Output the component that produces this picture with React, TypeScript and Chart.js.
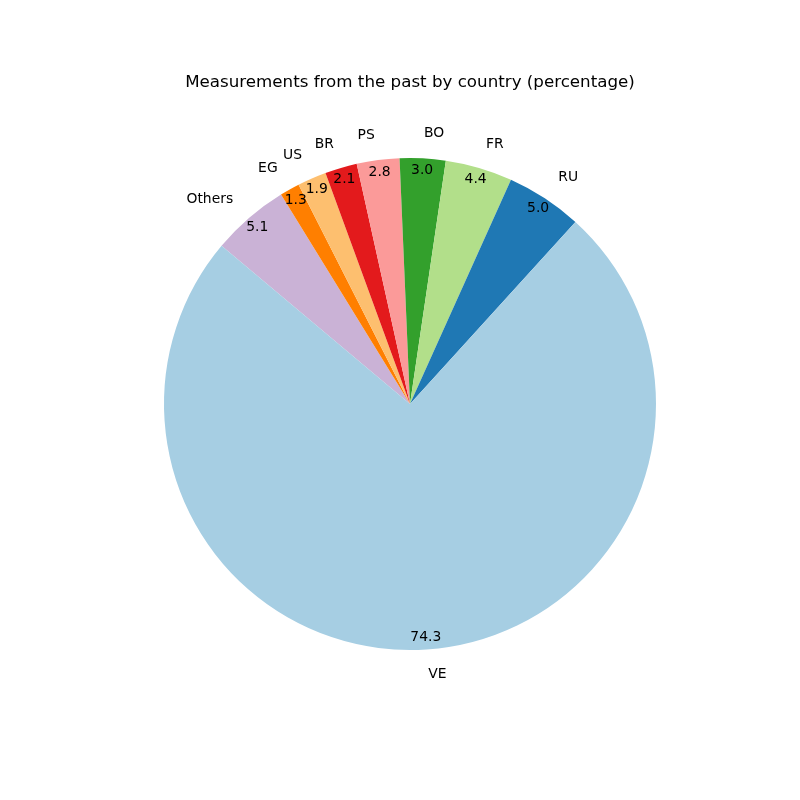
import { useEffect, useRef } from 'react'
import { Chart, registerables } from 'chart.js'

Chart.register(...registerables)

// countries in matplotlib order (counterclockwise from start angle)
const countries = ['VE', 'RU', 'FR', 'BO', 'PS', 'BR', 'US', 'EG', 'Others']
const shares = [74.3, 5.0, 4.4, 3.0, 2.8, 2.1, 1.9, 1.3, 5.1]
const colors = ['#a6cee3', '#1f78b4', '#b2df8a', '#33a02c', '#fb9a99', '#e31a1c', '#fdbf6f', '#ff7f00', '#cab2d6']
const chartTitle = 'Measurements from the past by country (percentage)'

// chart.js goes clockwise, so reverse to mimic the ccw pie
const labelsCw = [...countries].reverse()
const valuesCw = [...shares].reverse()
const colorsCw = [...colors].reverse()

const FONT = '"DejaVu Sans", sans-serif'

// draws title, outer labels and percentages like matplotlib
const pieLabels = {
    id: 'pieLabels',
    afterDraw(chart: Chart) {
        const ctx = chart.ctx
        const meta = chart.getDatasetMeta(0)
        ctx.save()
        ctx.fillStyle = '#000'
        ctx.font = `16.7px ${FONT}`
        ctx.textAlign = 'center'
        ctx.textBaseline = 'middle'
        ctx.fillText(chartTitle, 410, 83)

        ctx.font = `13.9px ${FONT}`
        meta.data.forEach((el: any, i: number) => {
            const { x, y, startAngle, endAngle, outerRadius } = el.getProps(['x', 'y', 'startAngle', 'endAngle', 'outerRadius'], true)
            const mid = (startAngle + endAngle) / 2
            const c = Math.cos(mid)
            const s = Math.sin(mid)
            // label outside at 1.1 radius
            ctx.textAlign = c > 0 ? 'left' : 'right'
            ctx.fillText(labelsCw[i], x + c * outerRadius * 1.1, y + s * outerRadius * 1.1)
            // percentage inside near the edge
            ctx.textAlign = 'center'
            ctx.fillText(valuesCw[i].toFixed(1), x + c * outerRadius * 0.95, y + s * outerRadius * 0.95)
        })
        ctx.restore()
    },
}

function PieChart() {
    const chartRef = useRef<HTMLCanvasElement>(null)
    const chartInstance = useRef<Chart | null>(null)

    useEffect(() => {
        if (!chartRef.current) return
        chartInstance.current = new Chart(chartRef.current, {
            type: 'pie',
            data: {
                labels: labelsCw,
                datasets: [{
                    data: valuesCw,
                    backgroundColor: colorsCw,
                    borderWidth: 0,
                    hoverOffset: 0,
                    offset: 0,
                }],
            },
            options: {
                responsive: false,
                animation: false,
                devicePixelRatio: 1,
                rotation: -50,
                layout: { padding: { left: 164, right: 144, top: 158, bottom: 150 } },
                plugins: {
                    legend: { display: false },
                    title: { display: false },
                    tooltip: { enabled: false },
                },
            },
            plugins: [pieLabels],
        })

        return () => {
            if (chartInstance.current) {
                chartInstance.current.destroy()
                chartInstance.current = null
            }
        }
    }, [])

    return (
        <div style={{ position: 'fixed', left: 0, top: 0, width: 800, height: 800, background: '#fff' }}>
            <canvas ref={chartRef} width={800} height={800}></canvas>
        </div>
    )
}

export default function App() {
    return <PieChart />
}
